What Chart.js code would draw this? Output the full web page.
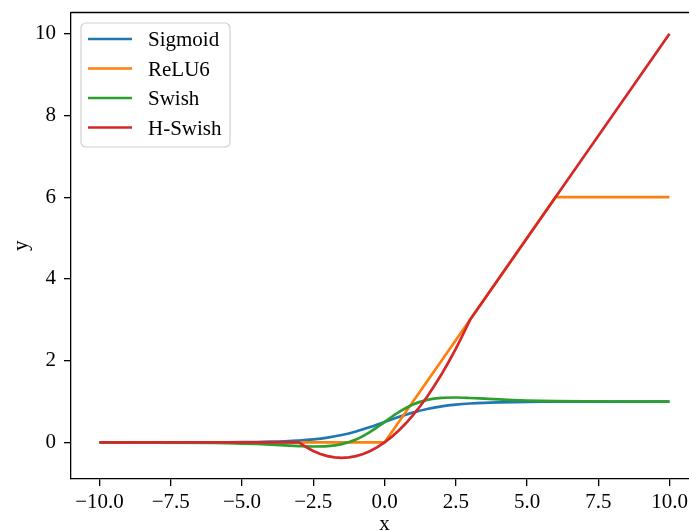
<!DOCTYPE html>
<html>
<head>
<meta charset="utf-8">
<script src="https://cdn.jsdelivr.net/npm/chart.js@4/dist/chart.umd.min.js"></script>
<style>
html, body { margin: 0; padding: 0; background: #fff; overflow: hidden; }
#wrap { position: absolute; left: 0; top: 0; }
</style>
</head>
<body>
<div id="wrap"><canvas id="actChart" width="700" height="545"></canvas></div>
<script>
// tick labels
const xTicks = [-10, -7.5, -5, -2.5, 0, 2.5, 5, 7.5, 10];
const yTicks = [0, 2, 4, 6, 8, 10];

// smooth curves
const smoothX  = [-10, -8, -6, -5.5, -5, -4.5, -4, -3.5, -3, -2.5, -2, -1.5, -1, -0.5, 0,
                  0.5, 1, 1.5, 2, 2.5, 3, 3.5, 4, 4.5, 5, 5.5, 6, 8, 10];
const sigmoidY = [0.0000, 0.0003, 0.0025, 0.0041, 0.0067, 0.0110, 0.0180, 0.0293, 0.0474, 0.0759, 0.1192, 0.1824, 0.2689, 0.3775, 0.5,
                  0.6225, 0.7311, 0.8176, 0.8808, 0.9241, 0.9526, 0.9707, 0.9820, 0.9890, 0.9933, 0.9959, 0.9975, 0.9997, 1.0000];
const swishY   = [-0.0004, -0.0024, -0.0123, -0.0182, -0.0266, -0.0379, -0.0527, -0.0703, -0.0881, -0.0994, -0.0908, -0.0413, 0.0723, 0.2600, 0.5,
                  0.7400, 0.9277, 1.0413, 1.0908, 1.0994, 1.0881, 1.0703, 1.0527, 1.0379, 1.0266, 1.0182, 1.0123, 1.0024, 1.0004];

// piecewise curves
const relu6X  = [-10, 0, 6, 10];
const relu6Y  = [0, 0, 6, 6];
const hswishX = [-10, -3, -2.75, -2.5, -2.25, -2, -1.75, -1.5, -1.25, -1, -0.75, -0.5, -0.25, 0,
                 0.25, 0.5, 0.75, 1, 1.25, 1.5, 1.75, 2, 2.25, 2.5, 2.75, 3, 10];
const hswishY = [0, 0, -0.1146, -0.2083, -0.2813, -0.3333, -0.3646, -0.375, -0.3646, -0.3333, -0.2813, -0.2083, -0.1146, 0,
                 0.1354, 0.2917, 0.4688, 0.6667, 0.8854, 1.125, 1.3854, 1.6667, 1.9688, 2.2917, 2.6354, 3, 10];

const seriesNames = ['Sigmoid', 'ReLU6', 'Swish', 'H-Swish'];
const seriesColors = ['#1f77b4', '#ff7f0e', '#2ca02c', '#d62728'];

function toPoints(xs, ys) {
    return xs.map((x, i) => ({ x: x, y: ys[i] }));
}

function fmtMinus(v, digits) {
    const s = Math.abs(v).toFixed(digits);
    return v < 0 ? '\u2212' + s : s;
}

// legend box inside the axes, matplotlib style
const innerLegend = {
    id: 'innerLegend',
    afterDatasetsDraw(chart) {
        const ctx = chart.ctx;
        const area = chart.chartArea;
        const bx = area.left + 10, by = area.top + 10.5, bw = 149, bh = 124;
        ctx.save();
        ctx.beginPath();
        ctx.roundRect(bx, by, bw, bh, 5);
        ctx.fillStyle = 'rgba(255,255,255,0.8)';
        ctx.fill();
        ctx.strokeStyle = '#d0d0d0';
        ctx.lineWidth = 1.2;
        ctx.stroke();
        ctx.font = '21px "Liberation Serif", "Times New Roman", serif';
        ctx.fillStyle = '#000';
        ctx.textBaseline = 'alphabetic';
        chart.data.datasets.forEach((ds, i) => {
            const ry = by + 16 + i * 29.5;
            ctx.beginPath();
            ctx.moveTo(bx + 7, ry);
            ctx.lineTo(bx + 51, ry);
            ctx.strokeStyle = ds.borderColor;
            ctx.lineWidth = ds.borderWidth;
            ctx.stroke();
            ctx.fillText(ds.label, bx + 67, ry + 7);
        });
        ctx.restore();
    }
};

// top spine
const topSpine = {
    id: 'topSpine',
    afterDraw(chart) {
        const ctx = chart.ctx;
        const area = chart.chartArea;
        ctx.save();
        ctx.beginPath();
        ctx.moveTo(area.left, area.top);
        ctx.lineTo(area.right, area.top);
        ctx.strokeStyle = '#000';
        ctx.lineWidth = 1.3;
        ctx.stroke();
        ctx.restore();
    }
};

Chart.defaults.font.family = '"Liberation Serif", "Times New Roman", serif';
Chart.defaults.font.size = 21;
Chart.defaults.color = '#000';

const lineStyle = { borderWidth: 2.7, pointRadius: 0, fill: false };

const ctx = document.getElementById('actChart').getContext('2d');
new Chart(ctx, {
    type: 'line',
    data: {
        datasets: [
            { ...lineStyle, label: seriesNames[0], data: toPoints(smoothX, sigmoidY), borderColor: seriesColors[0], cubicInterpolationMode: 'monotone', order: 3 },
            { ...lineStyle, label: seriesNames[1], data: toPoints(relu6X, relu6Y), borderColor: seriesColors[1], tension: 0, order: 2 },
            { ...lineStyle, label: seriesNames[2], data: toPoints(smoothX, swishY), borderColor: seriesColors[2], cubicInterpolationMode: 'monotone', order: 1 },
            { ...lineStyle, label: seriesNames[3], data: toPoints(hswishX, hswishY), borderColor: seriesColors[3], tension: 0, order: 0 }
        ]
    },
    options: {
        responsive: false,
        animation: false,
        devicePixelRatio: 1,
        layout: { padding: { top: 12.5, right: 2, left: 0, bottom: 0 } },
        plugins: {
            legend: { display: false },
            tooltip: { enabled: false }
        },
        scales: {
            x: {
                type: 'linear',
                min: -11,
                max: 11,
                afterBuildTicks: axis => { axis.ticks = xTicks.map(v => ({ value: v })); },
                afterFit: axis => {
                    axis.height = 66;
                    axis.paddingLeft = 0;
                    axis.paddingRight = 0;
                },
                ticks: { padding: 4, maxRotation: 0, callback: v => fmtMinus(v, 1) },
                grid: { drawOnChartArea: false, drawTicks: true, tickLength: 7, color: '#000', lineWidth: 1.3 },
                border: { display: true, color: '#000', width: 1.3 },
                title: { display: true, text: 'x', padding: { top: 0, bottom: 8 } }
            },
            y: {
                type: 'linear',
                min: -0.894,
                max: 10.519,
                afterBuildTicks: axis => { axis.ticks = yTicks.map(v => ({ value: v })); },
                afterFit: axis => {
                    axis.width = 71;
                    axis.paddingTop = 0;
                    axis.paddingBottom = 0;
                },
                ticks: { padding: 8, callback: v => fmtMinus(v, 0) },
                grid: { drawOnChartArea: false, drawTicks: true, tickLength: 7, color: '#000', lineWidth: 1.3 },
                border: { display: true, color: '#000', width: 1.3 },
                title: { display: true, text: 'y', padding: { top: 9, bottom: 0 } }
            }
        }
    },
    plugins: [innerLegend, topSpine]
});
</script>
</body>
</html>
